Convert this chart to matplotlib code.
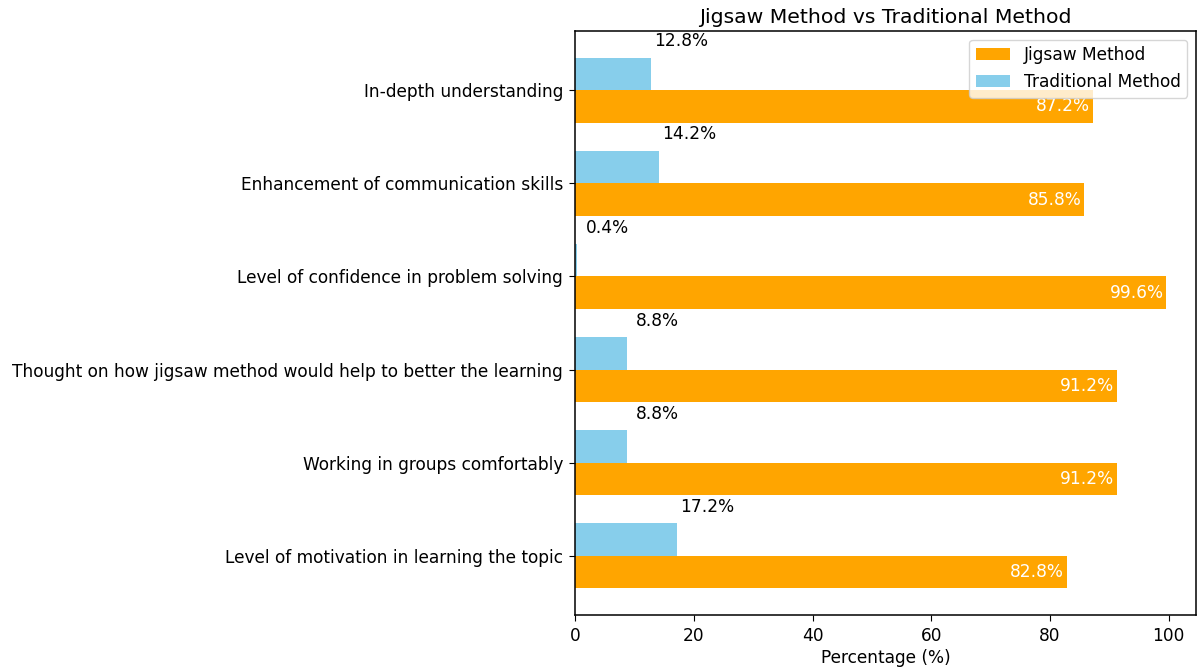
import matplotlib
matplotlib.use("Agg")
import matplotlib.pyplot as plt
import numpy as np

categories = [
    "Level of motivation in learning the topic",
    "Working in groups comfortably",
    "Thought on how jigsaw method would help to better the learning",
    "Level of confidence in problem solving",
    "Enhancement of communication skills",
    "In-depth understanding",
]
jigsaw = [82.8, 91.2, 91.2, 99.6, 85.8, 87.2]
traditional = [17.2, 8.8, 8.8, 0.4, 14.2, 12.8]

plt.rcParams["font.size"] = 12.25
plt.rcParams["xtick.major.size"] = 4.3
plt.rcParams["ytick.major.size"] = 4.3
plt.rcParams["xtick.major.pad"] = 4.3
plt.rcParams["ytick.major.pad"] = 4.3
plt.rcParams["axes.linewidth"] = 1.1

fig = plt.figure(figsize=(11.98, 6.68), dpi=100)
ax = fig.add_axes([575/1198, 1 - 615/668, (1196 - 575)/1198, (615 - 31)/668])

y = np.arange(len(categories))
h = 0.35
ax.barh(y - h/2, jigsaw, h, color="orange", label="Jigsaw Method")
ax.barh(y + h/2, traditional, h, color="skyblue", label="Traditional Method")

for yi, v in zip(y, jigsaw):
    ax.text(v - 5, yi - h/2, f"{v}%", ha="center", va="center", color="white")
for yi, v in zip(y, traditional):
    ax.text(v + 5, yi + h/2 + h, f"{v}%", ha="center", va="center", color="black")

ax.set_yticks(y)
ax.set_yticklabels(categories)
ax.set_xlabel("Percentage (%)", labelpad=3)
ax.set_title("Jigsaw Method vs Traditional Method")
ax.legend(loc="upper right")

fig.savefig("out.png", dpi=100)
